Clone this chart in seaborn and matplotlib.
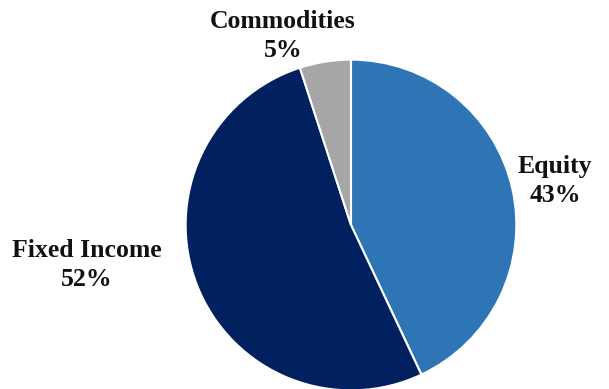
import seaborn as sns
import matplotlib.pyplot as plt

# allocation data
categories = ["Equity", "Fixed Income", "Commodities"]
shares = [43, 52, 5]
colors = ["#2E75B6", "#002060", "#A6A6A6"]

sns.set_theme(style="white")
plt.rcParams['font.family'] = ['Liberation Serif', 'DejaVu Serif']

W, H = 609, 389
fig = plt.figure(figsize=(W / 100, H / 100), dpi=100)

# pie centre ~ (351, 225) px, radius ~167 px
cx, cy, r = 351, 225, 167
ax = fig.add_axes([(cx - r) / W, (H - cy - r) / H, 2 * r / W, 2 * r / H])
ax.pie(shares, colors=colors, startangle=90, counterclock=False,
       wedgeprops=dict(edgecolor="white", linewidth=1.5))
ax.set_xlim(-1.01, 1.01)
ax.set_ylim(-1.01, 1.01)
ax.axis("off")

# label positions in pixels (x centre, y of middle between the two lines)
label_pos = {"Equity": (555, 181), "Fixed Income": (87, 265), "Commodities": (283, 36)}
for cat, val in zip(categories, shares):
    px, py = label_pos[cat]
    fig.text(px / W, 1 - py / H, f"{cat}\n{val}%", ha="center", va="center",
             fontsize=18.5, fontweight="bold", color="#111111", linespacing=1.32)

fig.savefig("out.png", dpi=100)
